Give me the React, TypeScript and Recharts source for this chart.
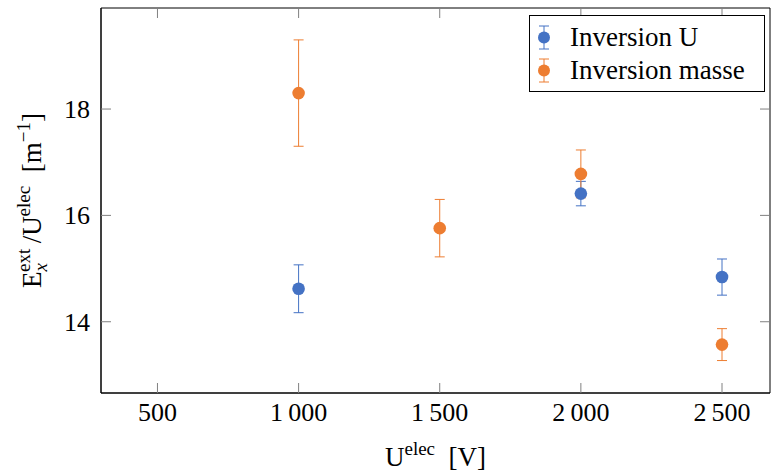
import { ScatterChart, Scatter, XAxis, YAxis, ErrorBar, Legend, ReferenceArea } from "recharts";

const uVoltages = [1000, 2000, 2500];
const uRatio = [14.62, 16.41, 14.84];
const uErr = [0.45, 0.23, 0.34];

const masseVoltages = [1000, 1500, 2000, 2500];
const masseRatio = [18.3, 15.76, 16.78, 13.57];
const masseErr = [1.0, 0.54, 0.45, 0.3];

const xTicks = [500, 1000, 1500, 2000, 2500];
const yTicks = [14, 16, 18];
const xDomain = [300, 2670];
const yDomain = [12.66, 19.9];

const BLUE = "#4472C4";
const ORANGE = "#ED7D31";
const FONT = "'Liberation Serif', 'DejaVu Serif', 'Noto Serif', Tinos, FreeSerif, 'Times New Roman', Times, serif";
const TICK_COLOR = "#808080";

// plot box edges (chart margins below)
const PLOT_TOP = 8;
const PLOT_RIGHT = 770;

const uData = uVoltages.map((x, i) => ({ x, y: uRatio[i], err: uErr[i] }));
const masseData = masseVoltages.map((x, i) => ({ x, y: masseRatio[i], err: masseErr[i] }));

const fmt = (v: number) => (v >= 1000 ? `${Math.floor(v / 1000)}\u2009${String(v % 1000).padStart(3, "0")}` : String(v));

function BottomTick(props: any) {
  const { x, y, payload } = props;
  return (
    <g>
      <line x1={x} x2={x} y1={y} y2={y - 10} stroke={TICK_COLOR} strokeWidth={1} />
      <line x1={x} x2={x} y1={PLOT_TOP} y2={PLOT_TOP + 10} stroke={TICK_COLOR} strokeWidth={1} />
      <text x={x} y={y + 28} textAnchor="middle" style={{ fontFamily: FONT }} fontSize={26} fill="#000">
        {fmt(payload.value)}
      </text>
    </g>
  );
}

function LeftTick(props: any) {
  const { x, y, payload } = props;
  return (
    <g>
      <line x1={x} x2={x + 10} y1={y} y2={y} stroke={TICK_COLOR} strokeWidth={1} />
      <line x1={PLOT_RIGHT} x2={PLOT_RIGHT - 10} y1={y} y2={y} stroke={TICK_COLOR} strokeWidth={1} />
      <text x={x - 11} y={y + 9} textAnchor="end" style={{ fontFamily: FONT }} fontSize={26} fill="#000">
        {payload.value}
      </text>
    </g>
  );
}

function XLabel(props: any) {
  const { x, y, width } = props.viewBox;
  return (
    <text x={x + width / 2} y={y + 73} textAnchor="middle" style={{ fontFamily: FONT }} fontSize={27} fill="#000">
      U
      <tspan fontSize={19} dy={-11}>elec</tspan>
      <tspan dy={11}>{"\u2002[V]"}</tspan>
    </text>
  );
}

function YLabel(props: any) {
  const { y, height } = props.viewBox;
  const cx = 41;
  const cy = y + height / 2;
  return (
    <text
      x={cx}
      y={cy}
      transform={`rotate(-90 ${cx} ${cy})`}
      textAnchor="middle"
      style={{ fontFamily: FONT }}
      fontSize={27}
      fill="#000"
    >
      E
      <tspan fontSize={19} fontStyle="italic" dy={6}>x</tspan>
      <tspan fontSize={19} dx={-9} dy={-17}>ext</tspan>
      <tspan dy={11}>{"\u2009/U"}</tspan>
      <tspan fontSize={19} dy={-11}>elec</tspan>
      <tspan dy={11}>{"\u2002[m"}</tspan>
      <tspan fontSize={19} dy={-11}>{"\u22121"}</tspan>
      <tspan dy={11}>]</tspan>
    </text>
  );
}

function LegendBox(props: any) {
  const items = (props.payload || []) as any[];
  return (
    <div
      style={{
        border: "1px solid #000",
        background: "#fff",
        boxSizing: "border-box",
        width: 236,
        height: 77,
        padding: "5px 0 0 0",
        fontFamily: FONT,
        fontSize: 27,
      }}
    >
      {items.map((it) => (
        <div key={it.value} style={{ display: "flex", alignItems: "center", height: 33 }}>
          <svg width={40} height={33} style={{ flex: "none" }}>
            <line x1={14} x2={14} y1={5} y2={28} stroke={it.color} strokeWidth={1} />
            <line x1={9} x2={19} y1={5} y2={5} stroke={it.color} strokeWidth={1} />
            <line x1={9} x2={19} y1={28} y2={28} stroke={it.color} strokeWidth={1} />
            <circle cx={14} cy={16.5} r={6} fill={it.color} />
          </svg>
          <span style={{ lineHeight: "33px", whiteSpace: "nowrap" }}>{it.value}</span>
        </div>
      ))}
    </div>
  );
}

export default function App() {
  return (
    <div style={{ position: "absolute", left: 0, top: 0, width: 772, height: 473, background: "#fff" }}>
      <ScatterChart width={772} height={473} margin={{ top: PLOT_TOP, right: 772 - PLOT_RIGHT, left: 0, bottom: 0 }}>
        <XAxis
          xAxisId="b"
          type="number"
          dataKey="x"
          domain={xDomain}
          ticks={xTicks}
          allowDataOverflow
          height={80}
          tickLine={false}
          tickSize={0}
          tickMargin={0}
          tick={<BottomTick />}
          axisLine={{ stroke: "#000", strokeWidth: 1 }}
          label={<XLabel />}
        />
        <YAxis
          yAxisId="l"
          type="number"
          dataKey="y"
          domain={yDomain}
          ticks={yTicks}
          allowDataOverflow
          width={101}
          tickLine={false}
          tickSize={0}
          tickMargin={0}
          tick={<LeftTick />}
          axisLine={{ stroke: "#000", strokeWidth: 1 }}
          label={<YLabel />}
        />
        <ReferenceArea
          xAxisId="b"
          yAxisId="l"
          x1={xDomain[0]}
          x2={xDomain[1]}
          y1={yDomain[0]}
          y2={yDomain[1]}
          fill="none"
          fillOpacity={0}
          stroke="#000"
          strokeWidth={1}
          ifOverflow="visible"
        />
        <Legend
          layout="vertical"
          align="center"
          verticalAlign="middle"
          content={<LegendBox />}
          wrapperStyle={{ top: 15, left: 529, width: 236, height: 77 }}
        />
        <Scatter
          name="Inversion U"
          data={uData}
          xAxisId="b"
          yAxisId="l"
          fill={BLUE}
          isAnimationActive={false}
          shape={(p: any) => <circle cx={p.cx} cy={p.cy} r={6.3} fill={BLUE} />}
        >
          <ErrorBar dataKey="err" direction="y" width={5} stroke={BLUE} strokeWidth={1} />
        </Scatter>
        <Scatter
          name="Inversion masse"
          data={masseData}
          xAxisId="b"
          yAxisId="l"
          fill={ORANGE}
          isAnimationActive={false}
          shape={(p: any) => <circle cx={p.cx} cy={p.cy} r={6.3} fill={ORANGE} />}
        >
          <ErrorBar dataKey="err" direction="y" width={5} stroke={ORANGE} strokeWidth={1} />
        </Scatter>
      </ScatterChart>
    </div>
  );
}
